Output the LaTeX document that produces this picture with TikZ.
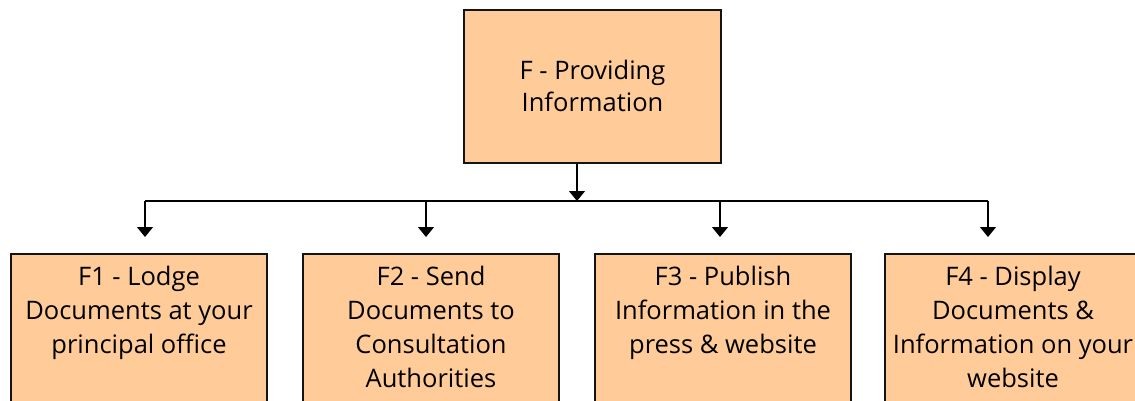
\documentclass[tikz,border=0pt]{standalone}
\usepackage{fontspec}
\setmainfont{Open Sans}
\usetikzlibrary{arrows.meta,calc}
\definecolor{boxfill}{RGB}{255,204,153}
\definecolor{boxline}{RGB}{20,20,20}
\tikzset{
  box/.style={draw=boxline, line width=1.8pt, fill=boxfill, rectangle, inner sep=0pt},
  lbl/.style={align=center, font=\fontsize{25.5}{34}\selectfont, inner sep=0pt, text=black},
  toplbl/.style={lbl, font=\fontsize{25.5}{32}\selectfont},
  conn/.style={line width=1.2pt, draw=black},
  arr/.style={conn, -{Triangle[width=16pt,length=10pt]}}
}
\begin{document}
\begin{tikzpicture}[x=1pt,y=-1pt]
\useasboundingbox (0,0) rectangle (1135,400);
\clip (0,0) rectangle (1135,400);
% top box
\node[box, minimum width=257pt, minimum height=153pt] (top) at (592.5,86.5) {};
\node[toplbl] (toptxt) at (592.5,86) {F - Providing\\Information};
% bottom boxes
\node[box, anchor=north, minimum width=256pt, minimum height=180pt] (b1) at (139,253) {};
\node[box, anchor=north, minimum width=256pt, minimum height=180pt] (b2) at (431,253) {};
\node[box, anchor=north, minimum width=256pt, minimum height=180pt] (b3) at (723,253) {};
\node[box, anchor=north, minimum width=256pt, minimum height=180pt] (b4) at (1013,253) {};
\node[lbl, anchor=north] (t1) at (139,266) {F1 - Lodge\\Documents at your\\principal office};
\node[lbl, anchor=north] (t2) at (431,266) {F2 - Send\\Documents to\\Consultation\\Authorities};
\node[lbl, anchor=north] (t3) at (723,266) {F3 - Publish\\Information in the\\press \& website};
\node[lbl, anchor=north] (t4) at (1013,266) {F4 - Display\\Documents \&\\Information on your\\website};
% connectors
\coordinate (j) at (577,201);
\coordinate (jl) at (145,201);
\coordinate (jr) at (988,201);
\coordinate (d1) at (145,237);
\coordinate (d2) at (426,237);
\coordinate (d3) at (720,237);
\coordinate (d4) at (988,237);
\draw[arr] (top.south -| j) -- (j);
\draw[conn] (jl) -- (jr);
\draw[arr] (jl) -- (d1);
\draw[arr] (d2 |- j) -- (d2);
\draw[arr] (d3 |- j) -- (d3);
\draw[arr] (jr) -- (d4);
\end{tikzpicture}
\end{document}
